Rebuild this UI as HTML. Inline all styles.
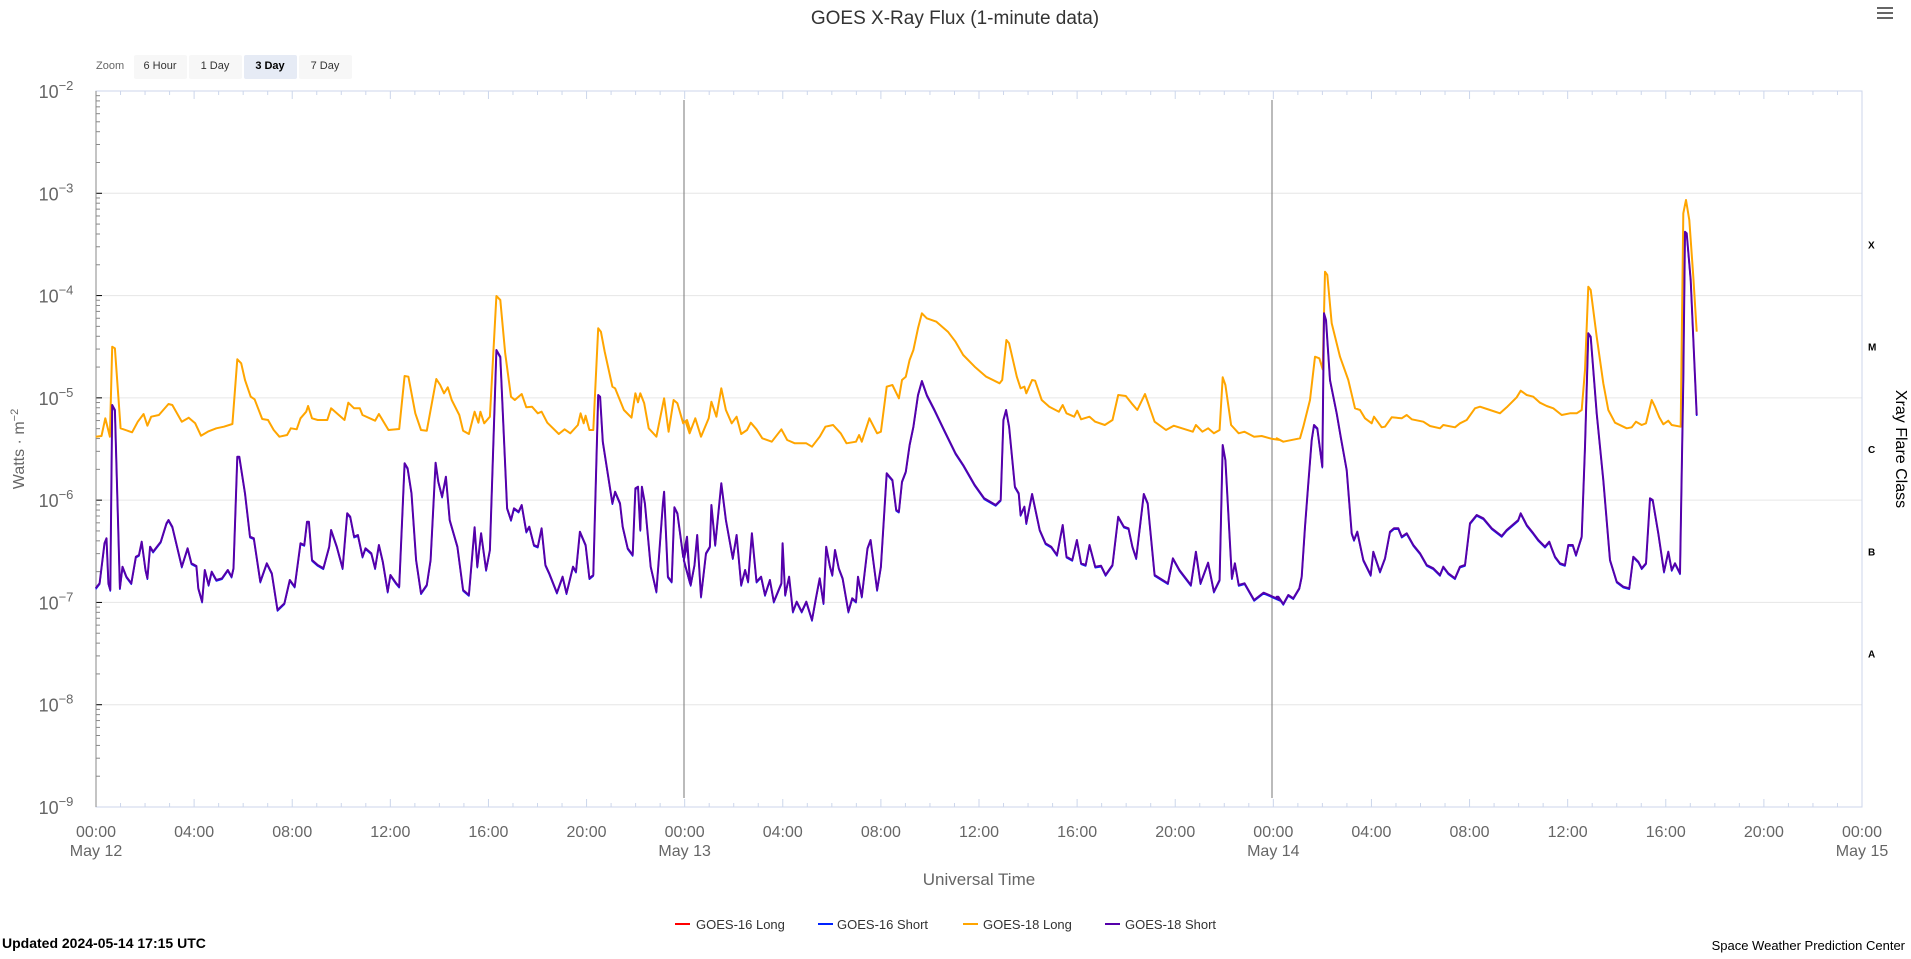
<!DOCTYPE html>
<html><head><meta charset="utf-8"><style>
body{margin:0;background:#fff;width:1911px;height:954px;overflow:hidden;font-family:"Liberation Sans",sans-serif}
</style></head><body>
<svg id="s" width="1911" height="954" xmlns="http://www.w3.org/2000/svg" font-family="Liberation Sans, sans-serif">
<text x="955" y="24" text-anchor="middle" font-size="19" fill="#333">GOES X-Ray Flux (1-minute data)</text>
<g fill="#666"><rect x="1877" y="7" width="16" height="2"/><rect x="1877" y="12" width="16" height="2"/><rect x="1877" y="17" width="16" height="2"/></g>
<text x="96" y="69" font-size="11" fill="#666">Zoom</text>
<rect x="134" y="55" width="53" height="24" rx="2" fill="#f7f7f7"/><text x="160" y="69" text-anchor="middle" font-size="11" fill="#333">6 Hour</text>
<rect x="189" y="55" width="53" height="24" rx="2" fill="#f7f7f7"/><text x="215" y="69" text-anchor="middle" font-size="11" fill="#333">1 Day</text>
<rect x="244" y="55" width="53" height="24" rx="2" fill="#e6ebf5"/><text x="270" y="69" text-anchor="middle" font-size="11" font-weight="bold" fill="#000">3 Day</text>
<rect x="299" y="55" width="53" height="24" rx="2" fill="#f7f7f7"/><text x="325" y="69" text-anchor="middle" font-size="11" fill="#333">7 Day</text>
<g id="grid"></g>
<rect x="96" y="91" width="1766" height="716" fill="none" stroke="#ccd6eb" stroke-width="1"/>
<line x1="96" y1="91" x2="96" y2="807" stroke="#888" stroke-width="1"/>
<line x1="684" y1="100" x2="684" y2="798" stroke="#777" stroke-width="1"/>
<line x1="1272" y1="100" x2="1272" y2="798" stroke="#777" stroke-width="1"/>
<g id="lbl" font-size="18" fill="#666"></g>
<g id="cls" font-size="10" font-weight="bold" fill="#000"></g>
<text transform="translate(24,449) rotate(-90)" text-anchor="middle" font-size="16" fill="#666">Watts · m<tspan dy="-6" font-size="11">−2</tspan></text>
<text transform="translate(1896,449) rotate(90)" text-anchor="middle" font-size="16" fill="#000">Xray Flare Class</text>
<text x="979" y="885" text-anchor="middle" font-size="17" fill="#666">Universal Time</text>
<g id="data" fill="none" stroke-width="2" stroke-linejoin="round"></g>
<g font-size="13" fill="#333">
<rect x="675" y="923" width="15" height="2" fill="#f00"/><text x="696" y="929">GOES-16 Long</text>
<rect x="818" y="923" width="15" height="2" fill="#0022ff"/><text x="837" y="929">GOES-16 Short</text>
<rect x="963" y="923" width="15" height="2" fill="#ffa500"/><text x="983" y="929">GOES-18 Long</text>
<rect x="1105" y="923" width="15" height="2" fill="#5500aa"/><text x="1125" y="929">GOES-18 Short</text>
</g>
<text x="2" y="948" font-size="14" font-weight="bold" fill="#000">Updated 2024-05-14 17:15 UTC</text>
<text x="1905" y="950" text-anchor="end" font-size="13" fill="#000">Space Weather Prediction Center</text>
</svg>
<script>
var NS="http://www.w3.org/2000/svg";
function el(p,t,a,tx){var e=document.createElementNS(NS,t);for(var k in a)e.setAttribute(k,a[k]);if(tx!=null)e.textContent=tx;document.getElementById(p).appendChild(e);return e;}
var T=91,B=807,D=(B-T)/7,L=96,R=1862,H=(R-L)/72;
for(var i=0;i<=7;i++){var y=T+i*D;
 if(i>0&&i<7)el("grid","line",{x1:L,x2:R,y1:y,y2:y,stroke:"#e6e6e6"});
 el("grid","line",{x1:L,x2:L+6,y1:y,y2:y,stroke:"#000"});
 if(i<7)for(var m=2;m<10;m++){var yy=T+(i+1)*D-Math.log10(m)*D;el("grid","line",{x1:L,x2:L+4,y1:yy,y2:yy,stroke:"#888"});}
 var t=el("lbl","text",{x:56,y:y+7,"text-anchor":"middle"},"10");var ts=document.createElementNS(NS,"tspan");ts.setAttribute("dy","-8");ts.setAttribute("font-size","13");ts.textContent="−"+(i+2);t.appendChild(ts);
}
var cl=["X","M","C","B","A"];for(var i=0;i<5;i++)el("cls","text",{x:1868,y:T+1.5*D+i*D+4},cl[i]);
for(var h=0;h<=72;h++){var x=L+h*H,len=h%4==0?8:4;
 el("grid","line",{x1:x,x2:x,y1:B,y2:B-len,stroke:"#ccd6eb"});el("grid","line",{x1:x,x2:x,y1:T,y2:T+len,stroke:"#ccd6eb"});
 if(h%4==0){var hh=("0"+(h%24)).slice(-2)+":00";el("lbl","text",{x:x,y:837,"text-anchor":"middle","font-size":"16"},hh);
  if(h%24==0)el("lbl","text",{x:x,y:856,"text-anchor":"middle","font-size":"16"},"May "+(12+h/24));}}
function cv(a,ox,oy,sx,sy){var r=[];for(var i=0;i<a.length;i+=2)r.push((ox+a[i]/sx).toFixed(1)+","+(oy+a[i+1]/sy).toFixed(1));return r;}
var o4=[15,500,30,498,40,445,52,500,58,230,65,235,80,475,110,487,125,455,140,432,150,467,160,440,180,435,205,402,215,405,240,455,258,443,275,460,290,497,310,484,330,475,350,470,372,462,385,268,395,280,405,330,420,380,430,388,450,447,465,450,480,480,495,500,515,495,525,475,540,478,550,445,565,425,570,408,580,445,595,450,620,450,630,415,650,435,665,450,675,398,690,415,705,415,712,435,745,452,755,432,780,480,808,477,822,318,832,320,850,430,865,480,880,482,905,327,915,345,925,370,935,352,945,390,965,435,975,482,990,492,1005,425,1015,458,1020,425,1030,460,1045,440,1062,78,1072,90,1085,250,1100,380,1110,390,1128,372,1140,412,1155,410,1170,430,1180,425,1195,458,1225,492,1240,478,1255,490,1275,465,1282,430,1290,460,1295,437,1305,480,1315,480,1328,175,1335,185,1345,245,1365,350,1372,355,1395,420,1415,443,1425,370,1432,397,1438,370,1448,400,1460,475,1480,500,1500,385,1512,485,1525,390,1535,400,1550,460,1560,450,1568,480];
var p4=[15,955,25,940,38,820,43,805,48,940,53,960,58,405,65,420,78,955,85,890,95,920,108,940,120,860,128,855,135,815,145,900,150,925,157,830,165,845,185,815,200,760,205,750,215,770,240,890,255,835,265,880,278,888,283,955,293,995,300,900,310,945,318,905,330,930,345,925,360,900,370,920,375,895,385,560,390,560,405,670,418,800,428,805,445,935,462,880,475,910,490,1020,508,1000,522,930,535,950,550,820,560,825,567,755,572,755,580,870,595,885,610,895,625,830,630,780,645,830,660,895,672,730,680,740,690,800,700,795,712,860,720,835,735,850,745,895,755,825,765,875,778,965,785,915,800,940,808,950,822,580,830,595,840,670,852,870,865,970,880,945,890,870,903,578,910,635,920,680,930,620,940,750,960,830,975,960,990,975,1005,772,1012,890,1022,790,1035,900,1045,840,1062,240,1072,260,1090,715,1100,750,1108,715,1120,725,1128,705,1140,785,1148,770,1160,825,1170,830,1180,775,1190,885,1200,910,1220,968,1235,920,1245,970,1262,890,1270,905,1280,785,1295,825,1305,925,1315,915,1328,375,1333,380,1340,515,1365,700,1372,665,1385,700,1392,770,1405,835,1418,855,1425,655,1432,650,1438,780,1442,650,1450,700,1465,890,1480,965,1497,700,1500,665,1510,920,1520,935,1527,712,1535,730,1550,860,1560,800,1568,940];
var o5=[15,455,25,490,40,445,55,500,75,445,82,395,95,440,108,355,120,420,135,460,148,440,160,492,175,480,185,458,200,478,215,505,240,515,265,478,280,510,300,520,330,520,345,530,365,500,380,470,400,465,420,490,435,520,460,515,468,495,475,515,495,445,515,490,525,485,540,350,555,345,572,385,580,330,590,320,600,270,610,240,622,175,632,130,645,145,670,155,700,185,720,215,740,255,770,290,800,320,835,340,842,330,853,210,860,220,880,320,890,355,900,350,905,370,920,330,928,332,945,390,965,410,990,425,1000,405,1010,430,1030,440,1038,422,1048,448,1070,440,1085,455,1110,465,1130,450,1145,375,1165,378,1180,400,1195,420,1215,372,1240,455,1270,480,1290,467,1320,478,1340,485,1348,465,1365,485,1380,475,1395,490,1410,480,1418,322,1425,345,1440,465,1460,490,1475,485,1500,500,1520,498,1545,506,1568,510];
var p5=[10,870,18,820,28,945,38,885,45,795,55,980,68,850,78,830,82,705,92,825,108,640,120,750,138,865,148,795,160,945,170,900,178,935,188,790,200,935,212,920,222,975,235,930,245,995,265,940,268,820,275,975,285,920,295,1025,305,995,318,1025,330,995,345,1050,355,985,365,925,375,1000,382,830,392,890,398,915,405,840,415,895,425,925,440,1025,450,985,460,995,465,920,475,980,490,835,498,810,515,960,525,890,540,610,555,630,565,720,572,725,580,635,590,605,600,525,610,470,622,375,632,333,645,375,665,420,690,480,720,550,740,585,770,645,795,685,825,705,838,690,845,450,852,420,860,470,875,650,885,670,890,735,900,710,905,760,920,672,940,780,955,820,970,830,985,855,1000,765,1010,860,1025,870,1037,810,1048,880,1060,885,1070,825,1085,890,1100,887,1112,915,1130,885,1145,740,1160,770,1172,775,1182,830,1192,865,1212,672,1222,700,1240,915,1275,940,1288,865,1305,900,1335,945,1348,845,1360,940,1380,878,1395,965,1410,930,1418,525,1425,570,1442,925,1450,880,1460,945,1475,940,1500,990,1525,968,1545,978,1568,990];
var o6=[20,775,40,785,90,775,100,740,120,660,135,530,148,535,158,568,165,275,172,285,185,430,210,530,235,600,255,685,270,690,285,715,305,730,312,710,335,742,345,740,365,712,395,715,410,705,425,718,460,725,480,738,510,745,520,735,555,742,570,730,590,720,615,685,630,680,660,690,690,700,710,682,740,652,752,632,770,645,790,650,810,668,830,678,850,685,875,705,900,700,920,700,935,690,945,570,955,320,962,330,980,470,1000,610,1015,690,1035,728,1070,745,1085,742,1098,725,1115,735,1128,730,1145,660,1155,680,1168,712,1180,733,1195,722,1205,735,1232,740,1240,100,1248,60,1258,120,1270,290,1280,455];
var p6=[20,1250,25,1250,40,1272,55,1245,70,1255,88,1225,95,1190,105,1040,115,910,125,780,132,735,142,745,157,860,162,400,168,420,180,600,200,700,212,770,230,870,245,1060,252,1080,262,1055,280,1140,302,1185,310,1115,330,1175,345,1135,360,1055,372,1045,385,1045,395,1070,410,1060,430,1095,450,1120,470,1155,490,1165,510,1185,520,1160,535,1180,555,1195,570,1160,585,1155,600,1030,620,1005,640,1015,665,1045,695,1068,710,1050,745,1020,752,1000,770,1035,790,1060,805,1080,825,1100,838,1085,845,1105,855,1130,870,1150,885,1155,895,1095,908,1095,918,1125,935,1070,945,800,955,460,962,470,980,700,1000,900,1020,1140,1040,1205,1060,1220,1078,1225,1090,1130,1105,1145,1115,1165,1128,1150,1140,955,1148,960,1165,1060,1182,1175,1195,1115,1205,1170,1215,1150,1230,1180,1240,600,1245,155,1250,160,1262,300,1280,705];
var sx=2.613;
var O=cv(o4,90,270,sx,3).concat(cv(o5,680,270,sx,3),cv(o6,1270,180,3,3));
var P=cv(p4,90,270,sx,3).concat(cv(p5,680,270,sx,3),cv(p6,1270,180,3,3));
el("data","polyline",{points:P.join(" "),stroke:"#0022ff","stroke-width":"1.5",transform:"translate(0,1)"});
el("data","polyline",{points:O.join(" "),stroke:"#ffa500"});
el("data","polyline",{points:P.join(" "),stroke:"#5500aa"});
</script>
</body></html>
